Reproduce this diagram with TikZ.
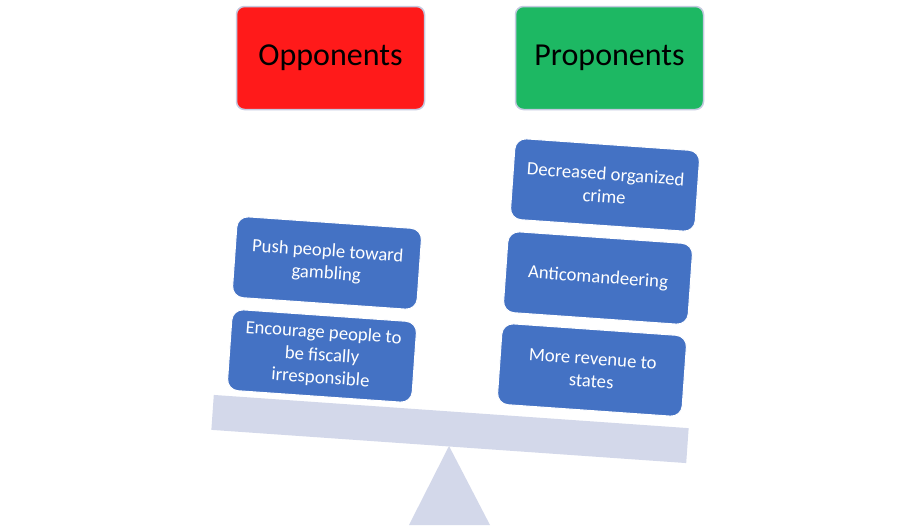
\documentclass[tikz,border=0pt]{standalone}
\usepackage{fontspec}
\setmainfont{Carlito}
\definecolor{oppred}{HTML}{FF1A1A}
\definecolor{progreen}{HTML}{1DB863}
\definecolor{hdrborder}{HTML}{C5CAE0}
\definecolor{beamcol}{HTML}{D3D8EA}
\definecolor{boxblue}{HTML}{4472C4}
\begin{document}
\begin{tikzpicture}[x=1pt,y=-1pt,
  header/.style={draw=hdrborder, line width=1.5pt, rounded corners=8pt,
    minimum width=188pt, minimum height=103pt, inner sep=0pt,
    font=\fontsize{32}{38}\selectfont, text=black},
  argbox/.style={fill=boxblue, draw=white, line width=1pt, rounded corners=11pt,
    minimum width=185pt, minimum height=81pt, inner sep=2pt, rotate=-4,
    align=center, text=white, font=\fontsize{18.7}{22.5}\selectfont}]
\useasboundingbox[fill=white] (0,0) rectangle (899,525);
% fulcrum and beam
\fill[beamcol] (449,446) -- (409,525) -- (490,525) -- cycle;
\node[fill=beamcol, rotate=-4, minimum width=476pt, minimum height=35pt, inner sep=0pt] (beam) at (450,429) {};
% headers
\node[header, fill=oppred] (opp) at (330.5,58) {Opponents};
\node[header, fill=progreen] (pro) at (609.5,58) {Proponents};
% opponents arguments
\node[argbox] (push) at (327,263) {Push people toward\\gambling};
\node[argbox] (enc) at (322,356) {Encourage people to\\be fiscally\\irresponsible};
% proponents arguments
\node[argbox] (crime) at (605,185) {Decreased organized\\crime};
\node[argbox] (anti) at (598,278) {Anticomandeering};
\node[argbox] (rev) at (592,370) {More revenue to\\states};
\end{tikzpicture}
\end{document}
